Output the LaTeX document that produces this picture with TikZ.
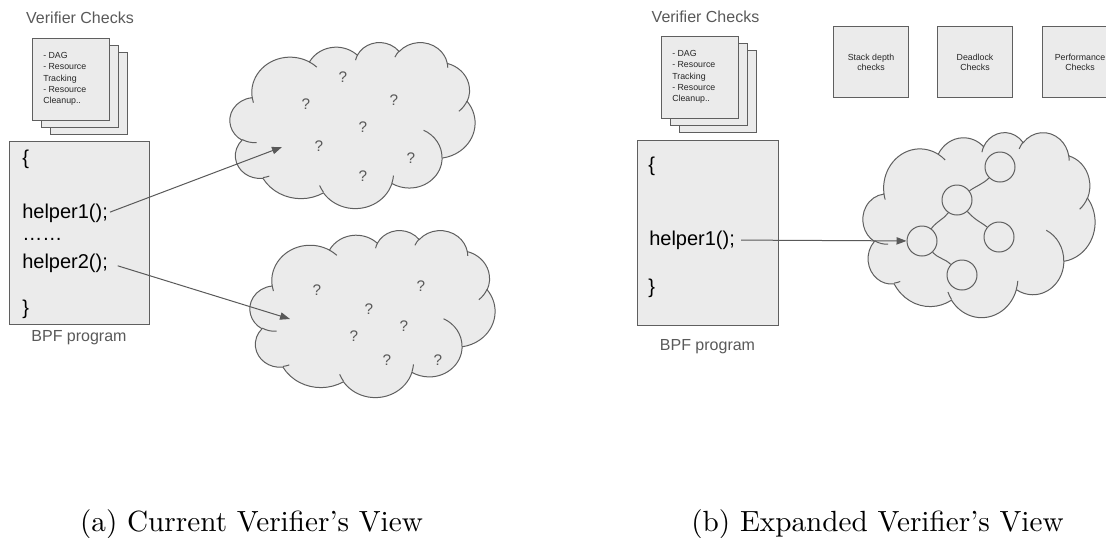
\documentclass[tikz,border=0pt]{standalone}
\usepackage{fontspec}
\newfontfamily\arial{Liberation Sans}
\usetikzlibrary{arrows.meta}

\definecolor{boxfill}{RGB}{235,235,235}
\definecolor{linegray}{RGB}{95,95,95}
\definecolor{labelgray}{RGB}{89,89,89}

% One lobe of the cloud outline: elliptic arc given by its radii and by
% visual start / sweep angles (converted to the ellipse parameter here).
\newcommand\carc[4]{arc[x radius=#1, y radius=#2,
  start angle={atan2(#1*sin(#3),#2*cos(#3))},
  delta angle={mod(atan2(#1*sin(#3+#4),#2*cos(#3+#4))-atan2(#1*sin(#3),#2*cos(#3))+720,360)}]}

% Cloud of width #3 and height #4 with its top left corner at (#1,#2);
% drawn in a 432 x 432 box that is stretched to the requested size.
\newcommand\cloudshape[4]{%
  \begin{scope}[shift={(#1,#2)}, x={(#3*0.75pt/432,0pt)}, y={(0pt,-#4*0.75pt/432)}]
    \filldraw[cloudline, fill=boxfill] (39.00,143.70)
      \carc{67.53}{91.90}{-190.48748}{123.78053}
      \carc{53.33}{72.67}{-144.10238}{89.94523}
      \carc{43.65}{59.45}{-145.80792}{99.72302}
      \carc{48.57}{65.95}{-130.98607}{117.24173}
      \carc{53.33}{72.73}{-78.70888}{109.02692}
      \carc{67.75}{92.20}{-46.26725}{130.26900}
      \carc{57.85}{78.67}{0.62502}{114.03333}
      \carc{67.52}{92.15}{22.45160}{115.17255}
      \carc{77.20}{105.43}{66.24263}{75.71102}
      \carc{43.60}{59.18}{-274.94208}{146.73557}
      \carc{43.45}{59.45}{-246.82850}{152.51885} -- cycle;
    \draw[cloudline]
      (46.93,261.77) \carc{43.45}{59.45}{86.74200}{26.42950}
      (69.28,348.99) \carc{43.60}{59.18}{73.61047}{11.44747}
      (164.78,390.90) \carc{67.52}{92.15}{137.62415}{14.08110}
      (288.27,347.51) \carc{67.52}{92.15}{6.45327}{15.99835}
      (341.29,229.54) \carc{57.85}{78.67}{-70.29235}{70.91737}
      (417.98,153.54) \carc{53.33}{72.73}{30.31803}{27.75150}
      (383.24,54.26) \carc{48.57}{65.95}{-13.74433}{14.85890}
      (290.78,39.52) \carc{48.57}{65.95}{-149.18145}{18.19537}
      (221.41,47.20) \carc{43.65}{59.45}{-163.49427}{17.68635}
      (140.00,51.92) \carc{67.53}{91.90}{-66.70695}{12.31935}
      (41.27,157.89) \carc{67.53}{91.90}{157.65435}{11.85817};
  \end{scope}}

\begin{document}
\begin{tikzpicture}[x=0.75pt, y=-0.75pt,
  title/.style={font=\arial\fontsize{12}{14}\selectfont, text=labelgray, inner sep=0},
  page/.style={draw=linegray, fill=boxfill, line width=0.75pt, anchor=north west,
    minimum width=77*0.75pt, minimum height=82*0.75pt, inner sep=0},
  note/.style={font=\arial\fontsize{6.6}{8.6}\selectfont, align=left,
    anchor=north west, inner sep=0, text=black!85},
  codebox/.style={draw=linegray, fill=boxfill, line width=0.75pt, anchor=north west, inner sep=0},
  code/.style={font=\arial\fontsize{15}{18}\selectfont, anchor=base west, inner sep=0},
  qmark/.style={font=\arial\fontsize{11.5}{13}\selectfont, text=labelgray, inner sep=0},
  checkbox/.style={draw=linegray, fill=boxfill, line width=0.75pt, anchor=north west,
    minimum width=75*0.75pt, minimum height=71*0.75pt, inner sep=0,
    font=\arial\fontsize{6.6}{7.5}\selectfont, align=center, text=black!85},
  vertex/.style={circle, draw=linegray, line width=0.75pt, minimum size=30*0.75pt, inner sep=0},
  arr/.style={draw=labelgray, line width=0.75pt, -{Triangle[length=7.5pt,width=5.5pt]}},
  link/.style={draw=linegray, line width=0.75pt},
  cloudline/.style={draw=linegray, line width=0.75pt},
  caption/.style={scale=2.19, anchor=base, inner sep=0}]

\clip (0,0) rectangle (1106,537);

% ---------------- (a) current view ----------------
\node[title] (chkA) at (80,18) {Verifier Checks};
\node[page] (pgA3) at (50,52) {};
\node[page] (pgA2) at (41,45) {};
\node[page] (pgA1) at (32,38) {};
\node[note] (lstA) at (43,51.7) {- DAG\\- Resource\\Tracking\\- Resource\\Cleanup..};

\node[codebox, minimum width=140*0.75pt, minimum height=183*0.75pt] (bpfA) at (9,141) {};
\node[code] (brA1) at (22,164.5) {\{};
\node[code] (h1) at (22,218) {helper1();};
\node[code] (dots) at (22,240) {……};
\node[code] (h2) at (22,268) {helper2();};
\node[code] (brA2) at (22,314.5) {\}};
\node[title] (lblA) at (79,337.5) {BPF program};

\cloudshape{230}{42}{245}{166}
\cloudshape{250}{230}{245}{167}

\foreach \p [count=\i] in {(343,77),(306,104),(394,100),(363,127),(319,146),(411,158),(363,176)}
  \node[qmark] (qa\i) at \p {?};
\foreach \p [count=\i] in {(317,290),(421,286),(369,309),(404,326),(354,336),(387,360),(438,360)}
  \node[qmark] (qb\i) at \p {?};

\coordinate (tipA1) at (282,147);
\coordinate (tipA2) at (290,319);
\draw[arr, shorten <=1.5pt] (h1.east) -- (tipA1);
\draw[arr, shorten <=7.5pt] (h2.east) -- (tipA2);

\node[caption] (capA) at (251.5,531) {(a) Current Verifier's View};

% ---------------- (b) expanded view ----------------
\node[title] (chkB) at (705.5,17) {Verifier Checks};
\node[page] (pgB3) at (679,50) {};
\node[page] (pgB2) at (670,43) {};
\node[page] (pgB1) at (661,36) {};
\node[note] (lstB) at (672,49.7) {- DAG\\- Resource\\Tracking\\- Resource\\Cleanup..};

\node[checkbox] (stk) at (833,26) {Stack depth\\checks};
\node[checkbox] (dlk) at (937,26) {Deadlock\\Checks};
\node[checkbox] (prf) at (1042,26) {Performance\\Checks};

\node[codebox, minimum width=141*0.75pt, minimum height=185*0.75pt] (bpfB) at (637,140) {};
\node[code] (brB1) at (648,171) {\{};
\node[code] (h1b) at (649,245) {helper1();};
\node[code] (brB2) at (648,293) {\}};
\node[title] (lblB) at (707.5,347) {BPF program};

\cloudshape{863}{132}{232}{185}

\node[vertex] (c1) at (1000,167) {};
\node[vertex] (c2) at (957,200) {};
\node[vertex] (c3) at (922,241) {};
\node[vertex] (c4) at (999,237) {};
\node[vertex] (c5) at (962,275) {};
\draw[link] (c2) .. controls (976,186) and (983,184) .. (c1);
\draw[link] (c2) .. controls (944,219) and (937,221) .. (c3);
\draw[link] (c2) .. controls (976,221) and (981,222) .. (c4);
\draw[link] (c3) .. controls (939,259) and (944,258) .. (c5);

\draw[arr, shorten <=4.5pt] (h1b) -- (c3);

\node[caption] (capB) at (877.5,531) {(b) Expanded Verifier's View};
\end{tikzpicture}
\end{document}
